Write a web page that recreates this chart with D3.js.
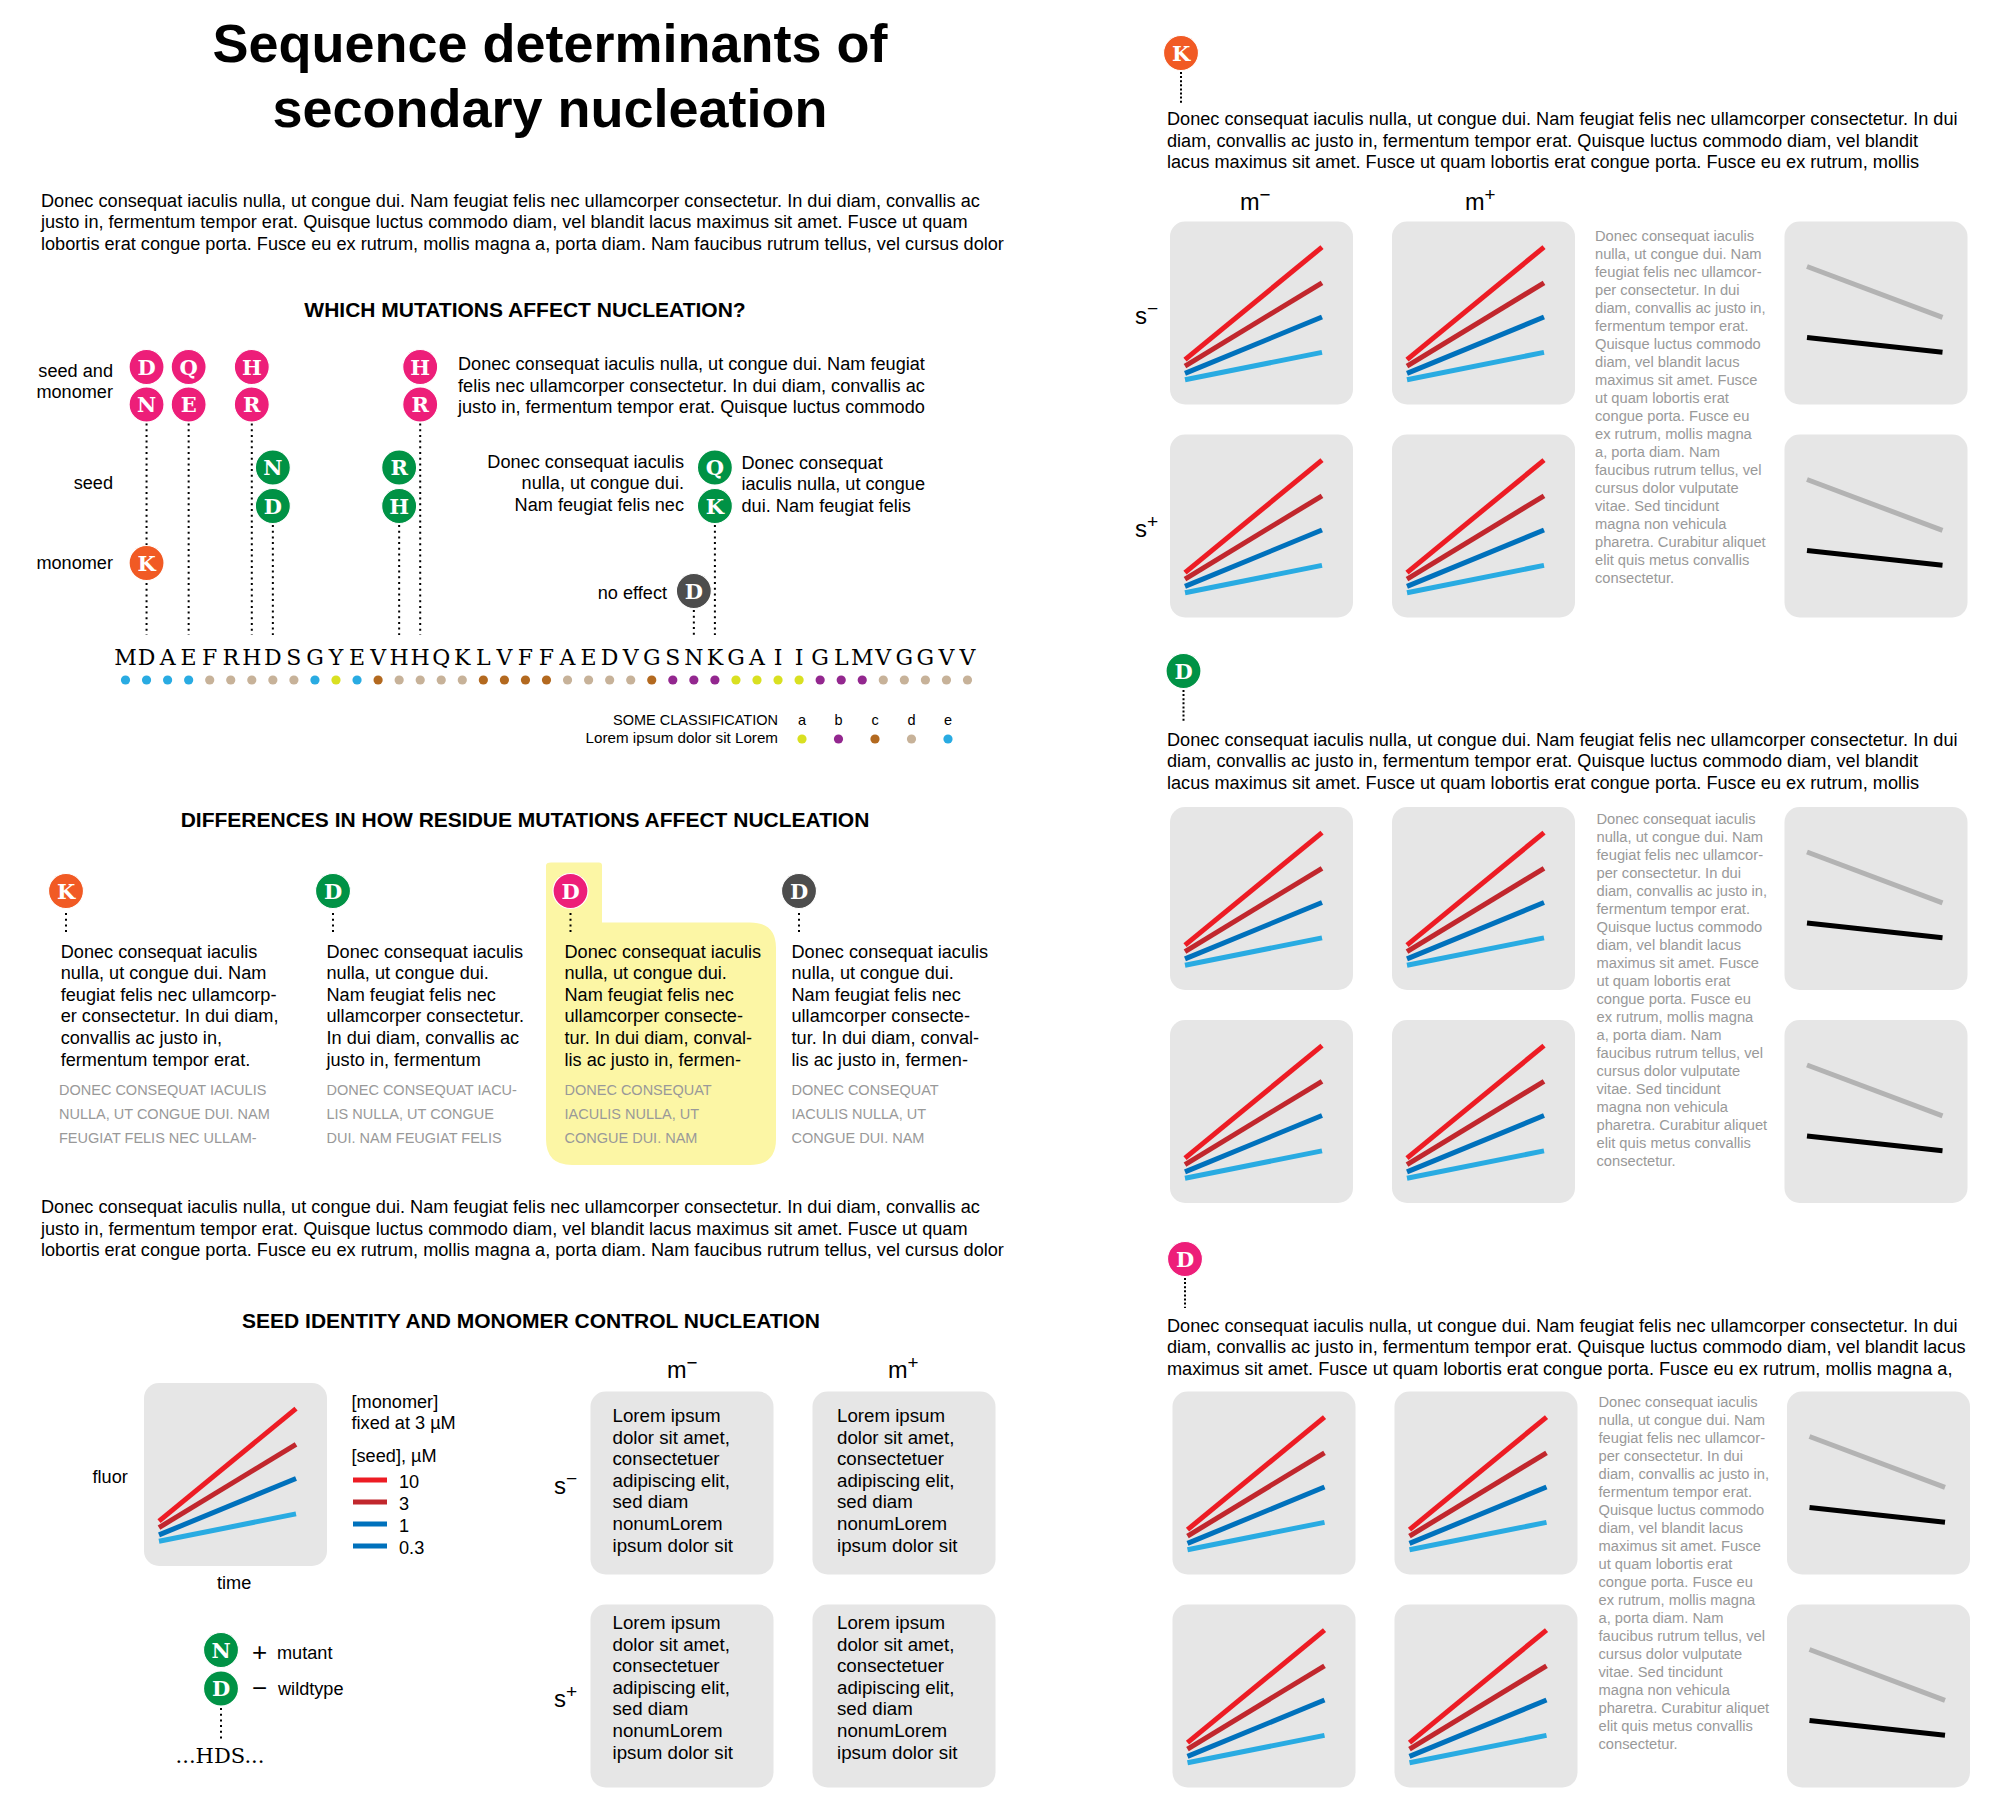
<!DOCTYPE html>
<html><head><meta charset="utf-8">
<style>html,body{margin:0;background:#fff}svg{display:block}text{font-family:"Liberation Sans",Arial,sans-serif;fill:#000}</style>
<script src="https://d3js.org/d3.v7.min.js"></script></head>
<body><svg id="c" width="2000" height="1819"></svg>
<script>
// ---- DATA ----
const residues = "MDAEFRHDSGYEVHHQKLVFFAEDVGSNKGAIIGLMVGGVV".split("");
const residueClass = "eeeedddddeaecddddccccddddcbbbaaaabbbddddd".split("");
const classNames = ["a","b","c","d","e"];
const badgeRows = ["sm1","sm2","s1","s2","m","none"];
const mutationResidue = [1,1,3,3,6,6,14,14,7,7,13,13,28,28,1,27];
const mutationLetter  = ["D","N","Q","E","H","R","H","R","N","D","R","H","Q","K","K","D"];
const mutationRow     = ["sm1","sm2","sm1","sm2","sm1","sm2","sm1","sm2","s1","s2","s1","s2","s1","s2","m","none"];
const stemResidue = [1,3,6,14,7,13,28,27];
const stemFrom    = ["sm2","sm2","sm2","sm2","s2","s2","s2","none"];
const seedLabels = ["10","3","1","0.3"];
const seedStart = [24.5,21,17,13.5];
const seedEnd   = [86,66.5,47.8,28.5];
const monomerLabels = ["grey","black"];
const monomerStart = [75.4,36.6];
const monomerEnd   = [47.6,28.5];
const para = ["Donec consequat iaculis nulla, ut congue dui. Nam feugiat felis nec ullamcorper consectetur. In dui diam, convallis ac",
 "justo in, fermentum tempor erat. Quisque luctus commodo diam, vel blandit lacus maximus sit amet. Fusce ut quam",
 "lobortis erat congue porta. Fusce eu ex rutrum, mollis magna a, porta diam. Nam faucibus rutrum tellus, vel cursus dolor"];
const paraR = ["Donec consequat iaculis nulla, ut congue dui. Nam feugiat felis nec ullamcorper consectetur. In dui",
 "diam, convallis ac justo in, fermentum tempor erat. Quisque luctus commodo diam, vel blandit",
 "lacus maximus sit amet. Fusce ut quam lobortis erat congue porta. Fusce eu ex rutrum, mollis"];
const paraR3 = ["Donec consequat iaculis nulla, ut congue dui. Nam feugiat felis nec ullamcorper consectetur. In dui",
 "diam, convallis ac justo in, fermentum tempor erat. Quisque luctus commodo diam, vel blandit lacus",
 "maximus sit amet. Fusce ut quam lobortis erat congue porta. Fusce eu ex rutrum, mollis magna a,"];
const sideText = ["Donec consequat iaculis","nulla, ut congue dui. Nam","feugiat felis nec ullamcor-","per consectetur. In dui","diam, convallis ac justo in,","fermentum tempor erat.","Quisque luctus commodo","diam, vel blandit lacus","maximus sit amet. Fusce","ut quam lobortis erat","congue porta. Fusce eu","ex rutrum, mollis magna","a, porta diam. Nam","faucibus rutrum tellus, vel","cursus dolor vulputate","vitae. Sed tincidunt","magna non vehicula","pharetra. Curabitur aliquet","elit quis metus convallis","consectetur."];
const columns = [
 {letter:"K",kind:"m",x:66,tx:60.7,gx:59,body:["Donec consequat iaculis","nulla, ut congue dui. Nam","feugiat felis nec ullamcorp-","er consectetur. In dui diam,","convallis ac justo in,","fermentum tempor erat."],caps:["DONEC CONSEQUAT IACULIS","NULLA, UT CONGUE DUI. NAM","FEUGIAT FELIS NEC ULLAM-"]},
 {letter:"D",kind:"s",x:333,tx:326.5,gx:326.5,body:["Donec consequat iaculis","nulla, ut congue dui.","Nam feugiat felis nec","ullamcorper consectetur.","In dui diam, convallis ac","justo in, fermentum"],caps:["DONEC CONSEQUAT IACU-","LIS NULLA, UT CONGUE","DUI. NAM FEUGIAT FELIS"]},
 {letter:"D",kind:"sm",x:570.5,tx:564.5,gx:564.5,body:["Donec consequat iaculis","nulla, ut congue dui.","Nam feugiat felis nec","ullamcorper consecte-","tur. In dui diam, conval-","lis ac justo in, fermen-"],caps:["DONEC CONSEQUAT","IACULIS NULLA, UT","CONGUE DUI. NAM"]},
 {letter:"D",kind:"n",x:799,tx:791.5,gx:791.5,body:["Donec consequat iaculis","nulla, ut congue dui.","Nam feugiat felis nec","ullamcorper consecte-","tur. In dui diam, conval-","lis ac justo in, fermen-"],caps:["DONEC CONSEQUAT","IACULIS NULLA, UT","CONGUE DUI. NAM"]}
];
const loremCell = ["Lorem ipsum","dolor sit amet,","consectetuer","adipiscing elit,","sed diam","nonumLorem","ipsum dolor sit"];

// ---- STYLE ----
const kindColor = {sm:"#ed1e79",s:"#009245",m:"#f15a24",n:"#4d4d4d"};
const rowKind = {sm1:"sm",sm2:"sm",s1:"s",s2:"s",m:"m",none:"n"};
const seedColor = d3.scaleOrdinal(seedLabels,["#ed1c24","#c1272d","#0071bc","#29abe2"]);
const legendColor = d3.scaleOrdinal(seedLabels,["#ed1c24","#c1272d","#0071bc","#0071bc"]);
const monoColor = d3.scaleOrdinal(monomerLabels,["#b3b3b3","#000"]);
const classColor = d3.scaleOrdinal(classNames,["#d9e021","#93278f","#b3691f","#c7b299","#29abe2"]);
const BODY=18.15, SERIF='"DejaVu Serif",serif';

const svg = d3.select("#c");
function lines(arr,x,y,dy,o={}){
  arr.forEach((t,i)=>{svg.append("text").attr("x",x).attr("y",y+i*dy).text(t)
    .attr("font-size",o.size||BODY).attr("text-anchor",o.anchor||"start")
    .attr("font-weight",o.weight||null).style("fill",o.fill||"#000");});
}
function badge(x,y,letter,kind){
  const g=svg.append("g").attr("transform",`translate(${x},${y})`);
  g.append("circle").attr("r",17.5).attr("fill",kindColor[kind]).attr("stroke","#fff").attr("stroke-width",1.2);
  g.append("text").attr("text-anchor","middle").attr("dy","0.37em").attr("font-size",21).attr("font-weight","bold")
   .style("font-family",SERIF).style("fill","#fff").text(letter);
}
function dots(x,y0,y1,gap=3.7){
  svg.append("line").attr("x1",x).attr("x2",x).attr("y1",y0).attr("y2",y1).attr("stroke","#000")
   .attr("stroke-width",2).attr("stroke-dasharray",`2 ${gap}`);
}
function sup(x,y,base,s,size){
  const t=svg.append("text").attr("x",x).attr("y",y).attr("font-size",size);
  t.append("tspan").text(base);
  t.append("tspan").attr("dy",-size*0.38).attr("font-size",size*0.8).text(s);
}
function panel(x,y,labels,starts,ends,range,color,sw=5){
  const g=svg.append("g").attr("transform",`translate(${x},${y})`);
  g.append("rect").attr("width",183).attr("height",183).attr("rx",15).attr("fill","#e6e6e6");
  const sx=d3.scaleLinear().domain([0,1]).range(range);
  const sy=d3.scaleLinear().domain([0,100]).range([183,0]);
  const ln=d3.line().x(d=>sx(d[0])).y(d=>sy(d[1]));
  labels.forEach((l,i)=>g.append("path").attr("d",ln([[0,starts[i]],[1,ends[i]]])).attr("fill","none")
    .attr("stroke",color(l)).attr("stroke-width",sw));
}
const seedPanel=(x,y)=>panel(x,y,seedLabels,seedStart,seedEnd,[15,152],seedColor);
const monoPanel=(x,y)=>panel(x,y,monomerLabels,monomerStart,monomerEnd,[22.5,158],monoColor);

// ---- TITLE ----
lines(["Sequence determinants of","secondary nucleation"],550,62,65,{size:54,weight:"bold",anchor:"middle"});
lines(para,41,206.5,21.7);
const HEAD=21;
lines(["WHICH MUTATIONS AFFECT NUCLEATION?"],525,317,0,{size:HEAD,weight:"bold",anchor:"middle"});
lines(["DIFFERENCES IN HOW RESIDUE MUTATIONS AFFECT NUCLEATION"],525,827,0,{size:HEAD,weight:"bold",anchor:"middle"});
lines(["SEED IDENTITY AND MONOMER CONTROL NUCLEATION"],531,1328,0,{size:HEAD,weight:"bold",anchor:"middle"});

// ---- SEQUENCE ----
const sx=d3.scalePoint().domain(d3.range(residues.length)).range([125.5,967.5]);
const rowY=d3.scaleOrdinal(badgeRows,[367,404.5,467.5,506,563,591]);
stemResidue.forEach((r,i)=>dots(sx(r),rowY(stemFrom[i])+19,635));
mutationResidue.forEach((r,i)=>badge(sx(r),rowY(mutationRow[i]),mutationLetter[i],rowKind[mutationRow[i]]));
svg.append("g").selectAll("text").data(residues).join("text").attr("x",(d,i)=>sx(i)).attr("y",665)
  .attr("text-anchor","middle").attr("font-size",22).style("font-family",SERIF).text(d=>d);
svg.append("g").selectAll("circle").data(residueClass).join("circle").attr("cx",(d,i)=>sx(i)).attr("cy",680).attr("r",4.6).attr("fill",d=>classColor(d));

lines(["seed and","monomer"],113,376.5,21.5,{anchor:"end"});
lines(["seed"],113,489,0,{anchor:"end"});
lines(["monomer"],113,569,0,{anchor:"end"});
lines(["no effect"],667,599,0,{anchor:"end"});
lines(["Donec consequat iaculis nulla, ut congue dui. Nam feugiat","felis nec ullamcorper consectetur. In dui diam, convallis ac","justo in, fermentum tempor erat. Quisque luctus commodo"],458,370,21.5);
lines(["Donec consequat iaculis","nulla, ut congue dui.","Nam feugiat felis nec"],684,468,21.3,{anchor:"end"});
lines(["Donec consequat","iaculis nulla, ut congue","dui. Nam feugiat felis"],741.5,469,21.3);

// class legend
const lx=d3.scalePoint().domain(classNames).range([802,948]);
lines(["SOME CLASSIFICATION"],778,725,0,{anchor:"end",size:14.5});
lines(["Lorem ipsum dolor sit Lorem"],778,743,0,{anchor:"end",size:15.2});
classNames.forEach(c=>{
  svg.append("text").attr("x",lx(c)).attr("y",725).attr("text-anchor","middle").attr("font-size",14.5).text(c);
  svg.append("circle").attr("cx",lx(c)).attr("cy",739).attr("r",4.6).attr("fill",classColor(c));
});

// ---- FOUR COLUMNS ----
svg.append("path").attr("fill","#fcf6a5")
 .attr("d","M551,862.5 H599 Q602,862.5 602,865.5 V922.5 H750 Q776,922.5 776,948 V1139 Q776,1165 750,1165 H572 Q546,1165 546,1139 V865.5 Q546,862.5 551,862.5 Z");
columns.forEach(c=>{
  dots(c.x,913,934);
  badge(c.x,891,c.letter,c.kind);
  lines(c.body,c.tx,957.5,21.6);
  lines(c.caps,c.gx,1094.5,24.3,{size:14.5,fill:"#999"});
});
lines(para,41,1213,21.7);

// ---- KEY ----
seedPanel(144,1383);
lines(["fluor"],92.5,1483,0);
lines(["time"],217,1589,0);
lines(["[monomer]","fixed at 3 µM"],351.5,1407.5,21.4);
lines(["[seed], µM"],351.5,1461.5,0);
const lgY=d3.scalePoint().domain(seedLabels).range([1480,1546]);
seedLabels.forEach(l=>{
  svg.append("line").attr("x1",353).attr("x2",387).attr("y1",lgY(l)).attr("y2",lgY(l)).attr("stroke",legendColor(l)).attr("stroke-width",5);
  lines([l],399,lgY(l)+8,0);
});
dots(221,1708,1741);
badge(221,1650,"N","s"); badge(221,1688.5,"D","s");
lines(["+"],252,1661,0,{size:26});
lines(["mutant"],277,1659,0);
lines(["−"],252,1697,0,{size:26});
lines(["wildtype"],278,1695,0);
svg.append("text").attr("x",220).attr("y",1763).attr("text-anchor","middle").attr("font-size",21).style("font-family",SERIF).text("...HDS...");

// ---- LOREM GRID ----
[[590.5,1391.5,22],[812.5,1391.5,24.5],[590.5,1604.5,22],[812.5,1604.5,24.5]].forEach((p,i)=>{
  svg.append("rect").attr("x",p[0]).attr("y",p[1]).attr("width",183).attr("height",183).attr("rx",15).attr("fill","#e6e6e6");
  lines(loremCell,p[0]+p[2],p[1]+(i<2?30.5:24.5),21.6,{size:18.7});
});
sup(667,1378,"m","−",23.5); sup(888,1378,"m","+",23.5);
sup(554,1494,"s","−",24); sup(554,1707,"s","+",24);

// ---- RIGHT ----
function group(px,pyA,pyB,para3,tx,tyBase,k,by,dotTo,mx,letter,paraY,paraX){
  dots(mx,by+19,dotTo,2.1);
  badge(mx,by,letter,k);
  lines(para3,paraX,paraY,21.6);
  [pyA,pyB].forEach(y=>{seedPanel(px,y);seedPanel(px+222,y);monoPanel(px+614.5,y);});
  lines(sideText,tx,tyBase,18,{size:14.7,fill:"#999"});
}
group(1170,221.5,434.5,paraR,1595,241,"m",53,103,1181,"K",125,1167);
group(1170,807,1020,paraR,1596.5,824,"s",671,721,1183.5,"D",745.5,1167);
group(1172.5,1391.5,1604.5,paraR3,1598.5,1407,"sm",1259,1308,1185,"D",1331.5,1167);
sup(1240,210,"m","−",23.5); sup(1465,210,"m","+",23.5);
sup(1135,324,"s","−",24); sup(1135,537,"s","+",24);
</script></body></html>
